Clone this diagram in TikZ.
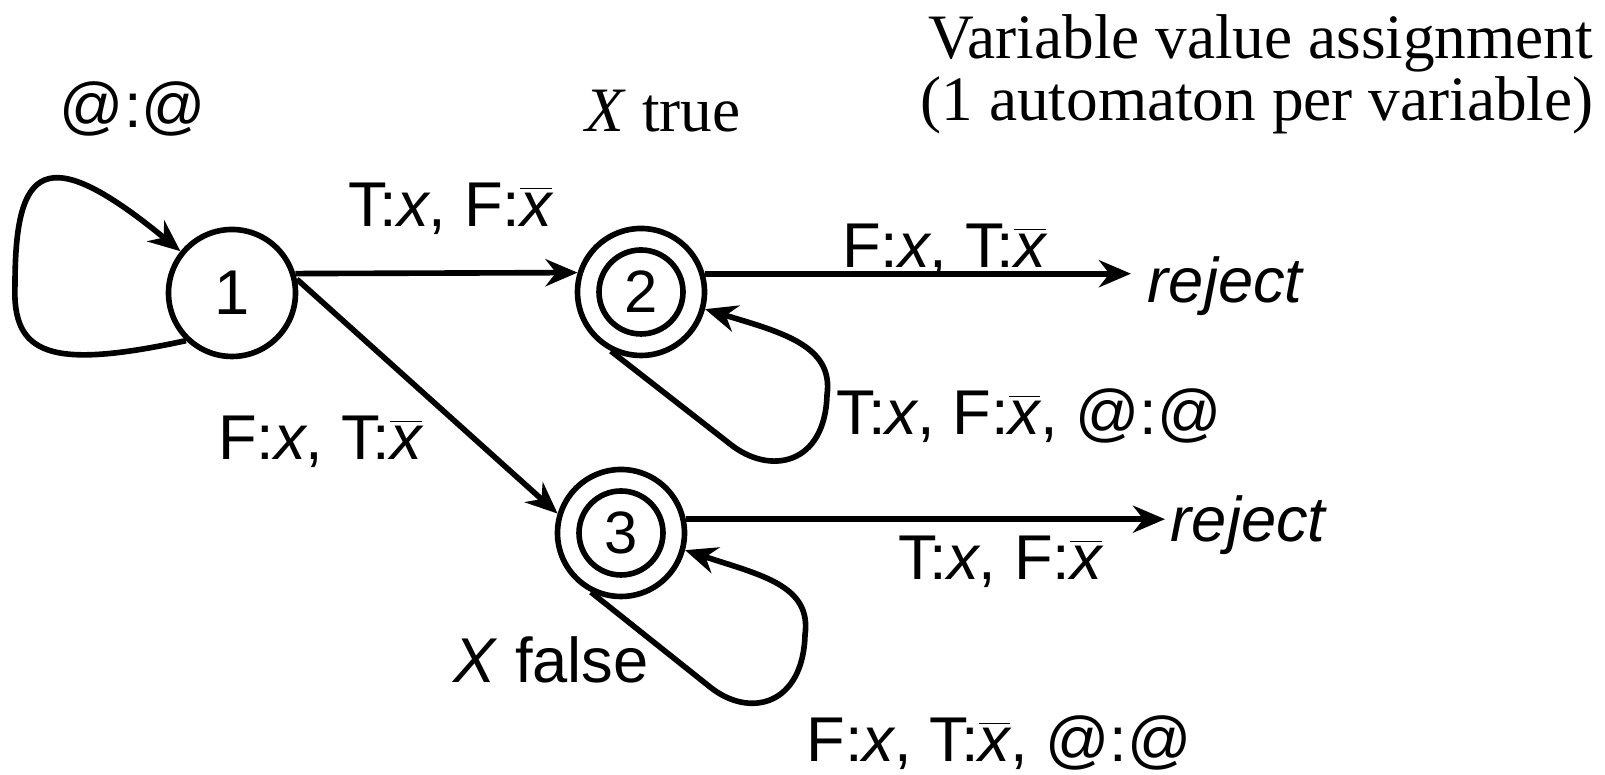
\documentclass[tikz,border=0pt]{standalone}
\usepackage{fontspec}
\setmainfont{Liberation Sans}
\newfontfamily\tnr{Liberation Serif}
\usetikzlibrary{positioning,automata}
\usetikzlibrary{arrows.meta}
\newcommand{\xb}{$\overline{\textit{x}}$}

\begin{document}
\begin{tikzpicture}[line width=1.6pt,
    font=\fontsize{18}{21}\selectfont,
    every state/.style={draw,circle,minimum size=1.27cm,inner sep=0pt,line width=1.6pt},
    lbl/.style={anchor=base,inner sep=0pt},
    hd/.style={anchor=base,inner sep=0pt,font=\fontsize{18}{21}\selectfont\tnr},
    >={Stealth[length=3.2mm,width=2.7mm]},
    ]
\useasboundingbox (0,0) rectangle (16.05,7.75);

\node[state] (n1) at (2.32,4.82) {1};
\node[state,font=\fontsize{17}{20}\selectfont] (n2) at (6.41,4.83) {2};
\node[state,font=\fontsize{17}{20}\selectfont] (n3) at (6.21,2.42) {3};
\draw (n2) circle (0.42); % accepting
\draw (n3) circle (0.42); % accepting

\node[lbl,anchor=base west] (rej1) at (11.45,4.72) {\textit{reject}};
\node[lbl,anchor=base west] (rej2) at (11.68,2.33) {\textit{reject}};

\draw[->] (n1.17) -- (n2.163);
\draw[->] (n1.12) -- (n3.163);
\draw[->,shorten >=1.4mm] (n2.16) -- (n2.16 -| rej1.west);
\draw[->,shorten >=0.3mm] (n3.12) -- (n3.12 -| rej2.west);

\draw[->] (n1.226) .. controls (0.5,4.05) and (0.12,4.2) .. (0.15,4.9)
    .. controls (0.15,6.1) and (0.45,6.35) .. (n1.141); % @:@
\draw[->] (n2.243) -- (7.3,3.31) .. controls (7.7,2.99) and (8.25,3.1) .. (8.27,3.8)
    .. controls (8.34,4.3) and (7.8,4.43) .. (n2.-15); % stay in 2
\draw[->] (n3.243) -- (7.1,0.88) .. controls (7.5,0.56) and (8.03,0.7) .. (8.05,1.4)
    .. controls (8.12,1.9) and (7.6,2.0) .. (n3.-15); % stay in 3

\node[lbl] (at1) at (1.33,6.47) {@:@};
\node[lbl] (l12) at (4.50,5.48) {T:\textit{x}, F:\xb};
\node[lbl] (l13) at (3.20,3.15) {F:\textit{x}, T:\xb};
\node[lbl] (l2r) at (9.44,5.07) {F:\textit{x}, T:\xb};
\node[lbl] (l22) at (10.29,3.40) {T:\textit{x}, F:\xb, @:@};
\node[lbl] (l3r) at (10.00,1.95) {T:\textit{x}, F:\xb};
\node[lbl] (l33) at (9.99,0.13) {F:\textit{x}, T:\xb, @:@};

\node[hd] (xt) at (6.63,6.43) {\textit{X} true};
\node[lbl] (xf) at (5.51,0.92) {\textit{X} false};
\node[hd] (h1) at (12.61,7.16) {Variable value assignment};
\node[hd] (h2) at (12.57,6.54) {(1 automaton per variable)};
\end{tikzpicture}
\end{document}
